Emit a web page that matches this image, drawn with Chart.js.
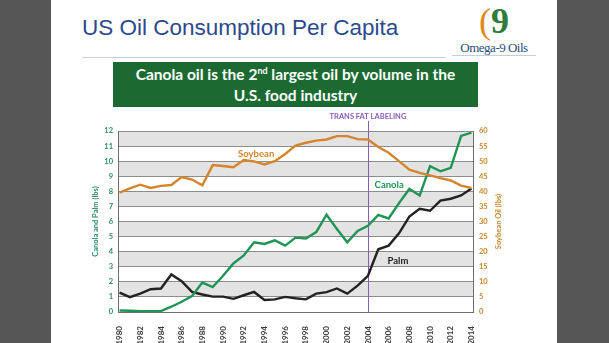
<!DOCTYPE html>
<html>
<head>
<meta charset="utf-8">
<script src="https://cdn.jsdelivr.net/npm/chart.js@4.4.1/dist/chart.umd.min.js"></script>
<style>
  html, body { margin: 0; padding: 0; }
  body { width: 609px; height: 343px; background: #565656; position: relative; overflow: hidden; font-family: Lato, sans-serif; }
  #slide { position: absolute; left: 51px; top: 0; width: 506px; height: 343px; background: #fff; }
  #title { position: absolute; left: 82px; top: 15px; font: 22.5px "Liberation Sans", Arial, sans-serif; color: #2b4a8b; white-space: nowrap; }
  #rule { position: absolute; left: 82px; top: 57px; width: 363px; height: 1px; background: #c8cdd9; }
  #logo { position: absolute; left: 452px; top: 2px; width: 84px; text-align: center; font-family: "Liberation Serif", serif; }
  #logo .mark { font-size: 36px; line-height: 38px; }
  #logo .name { font-size: 13px; color: #1f4f7a; letter-spacing: -0.5px; border-bottom: 1px solid #c8cdd9; line-height: 15px; }
  #banner { position: absolute; left: 113px; top: 62px; width: 365px; height: 45px; background: #1b6a32; color: #fff;
            font: bold 15.5px Lato, sans-serif; text-align: center; line-height: 21px; padding-top: 2px; box-sizing: border-box; white-space: nowrap; }
  #banner sup { font-size: 9px; line-height: 0; }
  #wrap { position: absolute; left: 0; top: 0; width: 609px; height: 343px; }
</style>
</head>
<body>
<div id="slide"></div>
<div id="title">US Oil Consumption Per Capita</div>
<div id="rule"></div>
<div id="logo"><div class="mark"><span style="color:#e08a1e">(</span><span style="color:#2e7d3a;font-weight:bold">9</span></div><div class="name">Omega-9 Oils</div></div>
<div id="banner">Canola oil is the 2<sup>nd</sup> largest oil by volume in the<br>U.S. food industry</div>
<div id="wrap"><canvas id="c" width="609" height="343"></canvas></div>
<script>
// ── DATA ───────────────────────────────────────────────────────────────────
const years = [1980, 1981, 1982, 1983, 1984, 1985, 1986, 1987, 1988, 1989,
               1990, 1991, 1992, 1993, 1994, 1995, 1996, 1997, 1998, 1999,
               2000, 2001, 2002, 2003, 2004, 2005, 2006, 2007, 2008, 2009,
               2010, 2011, 2012, 2013, 2014];
const yearTicks = [1980, 1982, 1984, 1986, 1988, 1990, 1992, 1994, 1996, 1998,
                   2000, 2002, 2004, 2006, 2008, 2010, 2012, 2014];
// soybean oil, lbs per capita (right axis)
const soybean = [39.6, 41.0, 42.2, 41.1, 41.8, 42.1, 44.7, 43.9, 42.0, 48.7,
                 48.4, 48.0, 50.4, 49.9, 48.9, 50.0, 52.4, 55.2, 56.1, 56.8,
                 57.2, 58.3, 58.3, 57.3, 57.2, 54.7, 52.8, 50.0, 47.2, 46.1,
                 45.3, 44.4, 43.6, 41.9, 41.1];
// canola and palm, lbs per capita (left axis)
const canola = [0.10, 0.08, 0.06, 0.06, 0.06, 0.35, 0.68, 1.05, 1.95, 1.65,
                2.40, 3.22, 3.75, 4.62, 4.51, 4.75, 4.40, 4.93, 4.87, 5.30,
                6.45, 5.50, 4.62, 5.38, 5.72, 6.44, 6.20, 7.22, 8.16, 7.73,
                9.67, 9.33, 9.56, 11.67, 11.89];
const palm = [1.29, 0.98, 1.22, 1.51, 1.56, 2.49, 2.04, 1.33, 1.16, 1.02,
              1.02, 0.87, 1.11, 1.33, 0.80, 0.84, 1.00, 0.91, 0.84, 1.22,
              1.32, 1.56, 1.22, 1.75, 2.40, 4.16, 4.40, 5.22, 6.33, 6.84,
              6.71, 7.38, 7.51, 7.73, 8.18];
const labelYear = 2004;

// ── COLOURS ────────────────────────────────────────────────────────────────
const soyColor = "#d4852b", canolaColor = "#1f9455", palmColor = "#222222";
const leftTick = "#2f8a66", rightTick = "#c9862e", purple = "#8a5cb8";

Chart.defaults.font.family = "Lato, sans-serif";
Chart.defaults.font.weight = "bold";

const pts = arr => years.map((y, i) => ({ x: y, y: arr[i] }));

// alternating grey bands behind the grid
const bands = {
  id: "bands",
  beforeDraw(chart) {
    const { ctx, chartArea: a, scales: { y } } = chart;
    ctx.save();
    ctx.fillStyle = "#e3e3e3";
    for (let v = 1; v < 12; v += 2) {
      const t = y.getPixelForValue(v + 1), b = y.getPixelForValue(v);
      ctx.fillRect(a.left, t, a.right - a.left, b - t);
    }
    ctx.restore();
  },
};

// trans fat line, series labels and the right axis title
const notes = {
  id: "notes",
  beforeDatasetsDraw(chart) {
    const { ctx, chartArea: a, scales: { x } } = chart;
    const px = Math.round(x.getPixelForValue(labelYear)) + 0.5;
    ctx.save();
    ctx.strokeStyle = purple; ctx.lineWidth = 1;
    ctx.beginPath(); ctx.moveTo(px, 121); ctx.lineTo(px, a.bottom); ctx.stroke();
    ctx.restore();
  },
  afterDraw(chart) {
    const { ctx, chartArea: a, scales: { x, y } } = chart;
    ctx.save();
    ctx.textAlign = "center"; ctx.textBaseline = "middle";
    ctx.fillStyle = purple; ctx.font = "bold 7.5px Lato";
    ctx.fillText("TRANS FAT LABELING", x.getPixelForValue(labelYear), 117);
    ctx.font = "bold 9.5px Lato";
    ctx.fillStyle = soyColor;    ctx.fillText("Soybean", x.getPixelForValue(1993.2), y.getPixelForValue(10.5));
    ctx.fillStyle = canolaColor; ctx.fillText("Canola",  x.getPixelForValue(2006.05), y.getPixelForValue(8.45));
    ctx.fillStyle = palmColor;   ctx.fillText("Palm",    x.getPixelForValue(2006.9), y.getPixelForValue(3.4));
    ctx.translate(499, (a.top + a.bottom) / 2);
    ctx.rotate(-Math.PI / 2);
    ctx.fillStyle = rightTick; ctx.font = "bold 7.5px Lato";
    ctx.fillText("Soybean Oil (lbs)", 0, 0);
    ctx.restore();
  },
};

new Chart(document.getElementById("c"), {
  type: "line",
  data: {
    datasets: [
      { label: "Soybean", data: pts(soybean), yAxisID: "y2", borderColor: soyColor, borderWidth: 2.4, pointRadius: 0, tension: 0 },
      { label: "Canola",  data: pts(canola),  yAxisID: "y",  borderColor: canolaColor, borderWidth: 2.4, pointRadius: 0, tension: 0 },
      { label: "Palm",    data: pts(palm),    yAxisID: "y",  borderColor: palmColor, borderWidth: 2.4, pointRadius: 0, tension: 0 },
    ],
  },
  options: {
    responsive: false, animation: false,
    layout: { padding: { left: 91, right: 104, top: 131, bottom: 0 } },
    plugins: { legend: { display: false }, tooltip: { enabled: false } },
    scales: {
      x: {
        type: "linear", min: 1979.85, max: 2014.15,
        afterBuildTicks: s => { s.ticks = yearTicks.map(v => ({ value: v })); },
        afterFit: s => { s.height = 31; },
        grid: { display: false },
        border: { display: true, color: "#6e6e6e", width: 1 },
        ticks: { color: "#3a3a3a", font: { size: 8, weight: "bold" }, minRotation: 90, maxRotation: 90, padding: 6, autoSkip: false,
                 callback: v => String(v) },
      },
      y: {
        position: "left", min: 0, max: 12,
        afterFit: s => { s.width = 27; },
        grid: { color: "#8c8c8c", lineWidth: 1, drawTicks: false },
        border: { display: true, color: "#6e6e6e", width: 1 },
        ticks: { stepSize: 1, color: leftTick, font: { size: 7.5, weight: "bold" }, padding: 5 },
        title: { display: true, text: "Canola and Palm (lbs)", color: leftTick, font: { size: 7.5, weight: "bold" }, padding: 0 },
      },
      y2: {
        position: "right", min: 0, max: 60,
        afterFit: s => { s.width = 32; },
        grid: { drawOnChartArea: false, drawTicks: false },
        border: { display: true, color: "#6e6e6e", width: 1 },
        ticks: { stepSize: 5, color: rightTick, font: { size: 7.5, weight: "bold" }, padding: 6 },
      },
    },
  },
  plugins: [bands, notes],
});
</script>
</body>
</html>
